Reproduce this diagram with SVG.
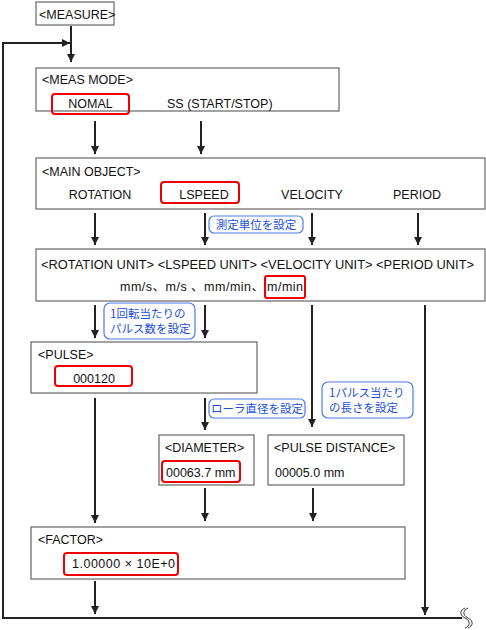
<svg xmlns="http://www.w3.org/2000/svg" width="486" height="630" viewBox="0 0 486 630">
<defs>
<marker id="ah" viewBox="0 0 10 10" refX="10" refY="5" markerWidth="4" markerHeight="4.5" orient="auto" markerUnits="strokeWidth"><path d="M0,0 L10,5 L0,10 z" fill="#222"/></marker>
</defs>
<style>
.box{fill:#fff;stroke:#666;stroke-width:1.2}
.sel{fill:none;stroke:#e00;stroke-width:2}
.note{fill:#fff;stroke:#4a7cf0;stroke-width:1.2}
.t{font-family:"Liberation Sans","Noto Sans CJK JP",sans-serif;font-size:12.5px;fill:#111}
.j{font-family:"Noto Sans CJK JP","Liberation Sans",sans-serif;font-size:11.5px;fill:#1d4fd6}
.c{fill:none;stroke:#222;stroke-width:2}
.a{fill:none;stroke:#222;stroke-width:2;marker-end:url(#ah)}
</style>
<rect width="486" height="630" fill="#fff"/>
<g id="connectors">
<line class="a" x1="71" y1="26" x2="71" y2="62"/>
<polyline class="a" points="3,618 3,43 70,43"/>
<line class="a" x1="95" y1="121" x2="95" y2="154"/>
<line class="a" x1="201" y1="121" x2="201" y2="154"/>
<line class="a" x1="95" y1="213" x2="95" y2="245"/>
<line class="a" x1="205" y1="213" x2="205" y2="245"/>
<line class="a" x1="312" y1="213" x2="312" y2="245"/>
<line class="a" x1="418" y1="213" x2="418" y2="245"/>
<line class="a" x1="95" y1="305" x2="95" y2="338"/>
<line class="a" x1="205" y1="305" x2="205" y2="338"/>
<line class="a" x1="312" y1="305" x2="312" y2="427"/>
<line class="a" x1="425" y1="305" x2="425" y2="615"/>
<line class="a" x1="95" y1="398" x2="95" y2="523"/>
<line class="a" x1="205" y1="398" x2="205" y2="430"/>
<line class="a" x1="205" y1="488" x2="205" y2="521"/>
<line class="a" x1="313" y1="488" x2="313" y2="521"/>
<line class="a" x1="95" y1="581" x2="95" y2="614"/>
<line class="c" x1="2" y1="618" x2="462" y2="618"/>
<path d="M465,608 c-5,2 -6,7 0,10 c6,3 5,8 0,10 M468,608 c-5,2 -6,7 0,10 c6,3 5,8 0,10" fill="none" stroke="#333" stroke-width="1"/>
</g>
<g id="measure">
<rect class="box" x="36" y="2" width="78" height="23"/>
<text class="t" x="39" y="19">&lt;MEASURE&gt;</text>
</g>
<g id="meas-mode">
<rect class="box" x="36" y="68" width="303" height="43"/>
<text class="t" x="42" y="84">&lt;MEAS MODE&gt;</text>
<rect class="sel" x="52" y="94" width="77" height="20" rx="3"/>
<text class="t" x="90.5" y="108" text-anchor="middle">NOMAL</text>
<text class="t" x="167" y="108">SS (START/STOP)</text>
</g>
<g id="main-object">
<rect class="box" x="36" y="158" width="449" height="51"/>
<text class="t" x="42" y="176">&lt;MAIN OBJECT&gt;</text>
<text class="t" x="100" y="199" text-anchor="middle">ROTATION</text>
<rect class="sel" x="161" y="182" width="78" height="21" rx="3"/>
<text class="t" x="204" y="199" text-anchor="middle">LSPEED</text>
<text class="t" x="312" y="199" text-anchor="middle">VELOCITY</text>
<text class="t" x="417" y="199" text-anchor="middle">PERIOD</text>
</g>
<g id="note-unit">
<rect class="note" x="209" y="216" width="94" height="17" rx="5"/>
<text class="j" x="256" y="229" text-anchor="middle">測定単位を設定</text>
</g>
<g id="unit">
<rect class="box" x="36" y="249" width="449" height="52"/>
<text class="t" x="41" y="269" textLength="433" lengthAdjust="spacingAndGlyphs">&lt;ROTATION UNIT&gt; &lt;LSPEED UNIT&gt; &lt;VELOCITY UNIT&gt; &lt;PERIOD UNIT&gt;</text>
<text class="t" x="120" y="291" textLength="144" lengthAdjust="spacing">mm/s、m/s 、mm/min、</text>
<text class="t" x="267" y="291" textLength="36" lengthAdjust="spacing">m/min</text>
<rect class="sel" x="265" y="276" width="40" height="22" rx="2"/>
</g>
<g id="note-pulse">
<rect class="note" x="104" y="303" width="91" height="36" rx="6"/>
<text class="j" x="110" y="318">1回転当たりの</text>
<text class="j" x="110" y="333">パルス数を設定</text>
</g>
<g id="pulse">
<rect class="box" x="31" y="342" width="226" height="51"/>
<text class="t" x="38" y="359">&lt;PULSE&gt;</text>
<rect class="sel" x="55" y="366" width="77" height="20" rx="3"/>
<text class="t" x="94" y="383" text-anchor="middle">000120</text>
</g>
<g id="note-diameter">
<rect class="note" x="209" y="399" width="96" height="19" rx="5"/>
<text class="j" x="257" y="413" text-anchor="middle">ローラ直径を設定</text>
</g>
<g id="note-distance">
<rect class="note" x="322" y="382" width="91" height="36" rx="6"/>
<text class="j" x="329" y="397">1パルス当たり</text>
<text class="j" x="329" y="412">の長さを設定</text>
</g>
<g id="diameter">
<rect class="box" x="159" y="435" width="95" height="50"/>
<text class="t" x="165" y="452">&lt;DIAMETER&gt;</text>
<rect class="sel" x="162" y="461" width="78" height="21" rx="3"/>
<text class="t" x="166" y="477">00063.7 mm</text>
</g>
<g id="pulse-distance">
<rect class="box" x="268" y="435" width="136" height="50"/>
<text class="t" x="274" y="452">&lt;PULSE DISTANCE&gt;</text>
<text class="t" x="275" y="477">00005.0 mm</text>
</g>
<g id="factor">
<rect class="box" x="31" y="527" width="374" height="52"/>
<text class="t" x="38" y="544">&lt;FACTOR&gt;</text>
<rect class="sel" x="64" y="553" width="114" height="22" rx="3"/>
<text class="t" x="72" y="568" textLength="103" lengthAdjust="spacing">1.00000 × 10E+0</text>
</g>
</svg>
